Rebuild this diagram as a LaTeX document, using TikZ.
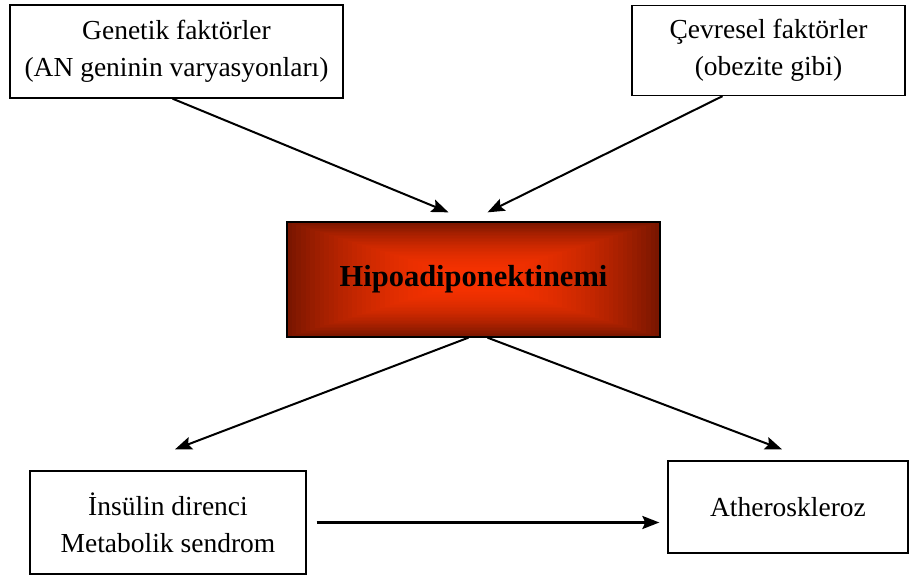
\documentclass[tikz,border=0pt]{standalone}
\usepackage{fontspec}
\setmainfont{Liberation Serif}
\usetikzlibrary{arrows.meta}

\definecolor{hipodark}{RGB}{122,22,0}
\definecolor{hipolight}{RGB}{248,50,0}

\tikzset{
    kutu/.style={draw, line width=1.3pt, align=center, font=\fontsize{27.5}{37}\selectfont},
    ok/.style={line width=2pt, -{Stealth[length=17pt,width=13pt,inset=3pt]}}
}

\begin{document}
\begin{tikzpicture}[x=1pt,y=-1pt]
    \useasboundingbox (0,0) rectangle (919,577);

    \pgfmathsetmacro{\hx}{473.5}   % merkez x
    \pgfmathsetmacro{\hy}{279.5}   % merkez y
    \pgfmathsetmacro{\hw}{186.5}   % yarim genislik
    \pgfmathsetmacro{\hh}{57.5}    % yarim yukseklik
    \pgfmathsetmacro{\nAdim}{40}   % adim sayisi

    % Dikdortgen gradyan
    \foreach \i in {0,...,40}{
        \pgfmathsetmacro{\f}{1-\i/\nAdim}
        \pgfmathsetmacro{\p}{100*(1-\f*\f)}
        \fill[hipolight!\p!hipodark] (\hx-\hw*\f, \hy-\hh*\f) rectangle (\hx+\hw*\f, \hy+\hh*\f);
    }

    \node[kutu, minimum width=333pt, minimum height=93pt] (gen) at (176.5,51.5)
        {Genetik faktörler\\(AN geninin varyasyonları)};
    \node[kutu, minimum width=273pt, minimum height=90pt] (cev) at (768.5,50.5)
        {Çevresel faktörler\\(obezite gibi)};
    \node[kutu, minimum width=373pt, minimum height=115pt, font=\fontsize{30.5}{36}\selectfont\bfseries] (hipo) at (\hx,\hy)
        {Hipoadiponektinemi};
    \node[kutu, minimum width=276pt, minimum height=103pt] (ins) at (168,522.5)
        {İnsülin direnci\\Metabolik sendrom};
    \node[kutu, minimum width=240pt, minimum height=92pt] (ath) at (788,507)
        {Atheroskleroz};

    % Oklar
    \draw[ok] ([xshift=-4pt]gen.south) -- ([xshift=-25pt,yshift=9pt]hipo.north);
    \draw[ok] ([xshift=-46pt]cev.south) -- ([xshift=14pt,yshift=9pt]hipo.north);
    \draw[ok] ([xshift=-5pt]hipo.south) -- ([xshift=7pt,yshift=21pt]ins.north);
    \draw[ok] ([xshift=14pt]hipo.south) -- ([xshift=-6pt,yshift=11pt]ath.north);
    \draw[ok, line width=2.6pt] ([xshift=10pt]ins.east) -- ([xshift=-8pt]ath.west |- ins.east);
\end{tikzpicture}
\end{document}
